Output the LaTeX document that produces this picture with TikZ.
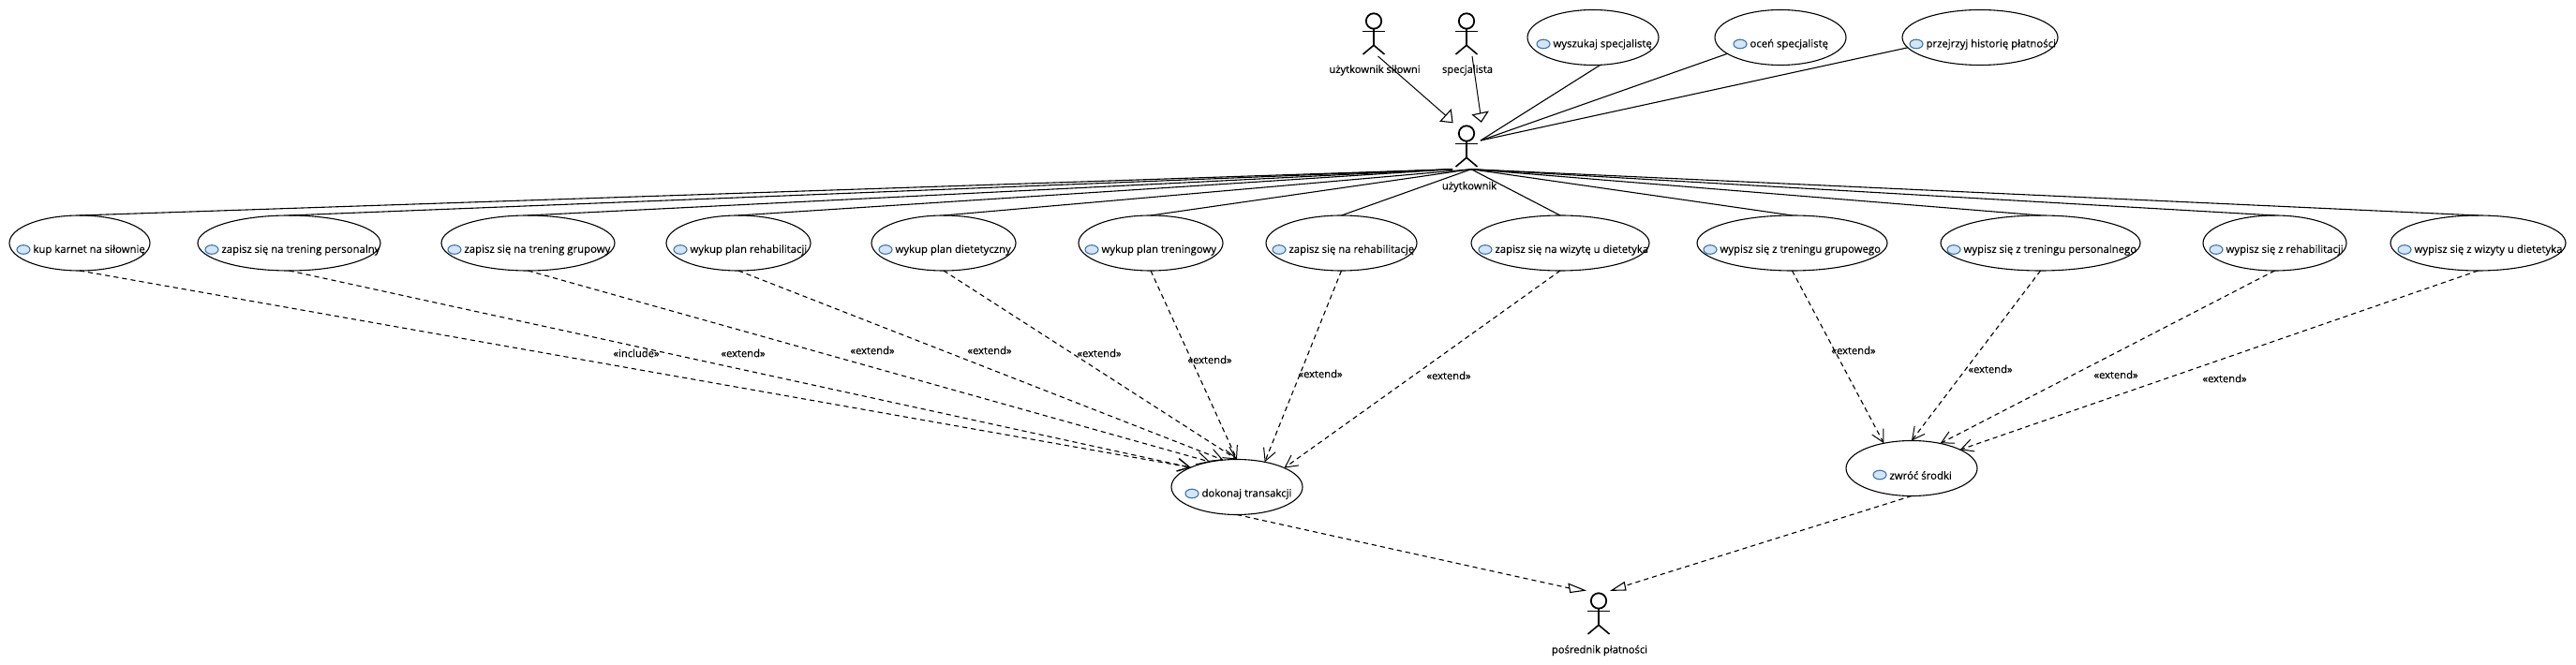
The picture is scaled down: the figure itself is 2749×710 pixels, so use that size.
\documentclass[tikz,border=0pt]{standalone}
\usepackage{fontspec}
\setmainfont{Open Sans}
\newfontfamily\labelfont{Open Sans}[FakeBold=0.25]
\usetikzlibrary{shapes.geometric,arrows.meta}
\definecolor{iconfill}{HTML}{D6E4F3}
\definecolor{iconline}{HTML}{3577B5}
\tikzset{
  ucase/.style={draw=black,ellipse,line width=0.55pt,inner sep=0pt,outer sep=0pt,fill=white,minimum height=29.5pt},
  ucicon/.style={draw=iconline,fill=iconfill,ellipse,line width=0.55pt,inner sep=0pt,outer sep=0pt,minimum width=7pt,minimum height=4.8pt},
  uctext/.style={font=\labelfont\fontsize{5.68pt}{6.5pt}\selectfont,inner sep=0pt,outer sep=0pt,anchor=west},
  lbl/.style={font=\labelfont\fontsize{5.6pt}{6.5pt}\selectfont,inner sep=0pt,outer sep=0pt},
  assoc/.style={draw=black,line width=0.55pt},
  dep/.style={draw=black,line width=0.55pt,dash pattern=on 2.6pt off 2pt,-{Straight Barb[length=6.5pt,width=6.8pt,line width=0.5pt]}},
  real/.style={draw=black,line width=0.55pt,dash pattern=on 2.6pt off 2pt},
  gen/.style={draw=black,line width=0.5pt},
  tri/.style={draw=black,line width=0.55pt,fill=white,line join=miter},
  actorbox/.style={inner sep=0pt,outer sep=0pt,minimum width=12pt,minimum height=21.5pt},
  actorhead/.style={draw=black,line width=0.9pt},
  actorbody/.style={draw=black,line width=0.8pt},
  actorarm/.style={draw=black,line width=0.5pt}
}
% name, cx, cy, width px, icon x, text
\newcommand{\usecase}[6]{%
  \node[ucase,minimum width=#4*0.5pt] (#1) at (#2,#3) {};
  \node[ucicon] (#1i) at (#5,#3+7) {};
  \node[uctext] (#1t) at (#5+10.5,#3+7.5) {#6};
}
% name, cx, top y, label y, label x, text
\newcommand{\actor}[6]{%
  \node[actorbox] (#1) at (#2,#3+21.5) {};
  \draw[actorhead] (#2,#3+7.5) circle[radius=4.1pt];
  \draw[actorarm] (#2-12,#3+18.2) -- (#2+12,#3+18.2);
  \draw[actorbody] (#2,#3+16) -- (#2,#3+33.3);
  \draw[actorbody] (#2-11.5,#3+43) -- (#2,#3+33.3) -- (#2+11.5,#3+43);
  \node[lbl] (#1l) at (#5,#4) {#6};
}
\begin{document}
\begin{tikzpicture}[x=0.5pt,y=-0.5pt]
\path[fill=white,use as bounding box] (0,0) rectangle (2749,710);

% actors
\actor{slowni}{1466}{15}{75}{1467}{użytkownik siłowni}
\actor{spec}{1565}{15}{75}{1566}{specjalista}
\actor{user}{1565}{135}{199.5}{1568}{użytkownik}
\actor{posr}{1706}{634}{694.5}{1707}{pośrednik płatności}

% connection points near actors
\coordinate (slowniOut) at (1470.5,60);
\coordinate (specOut) at (1571,60);
\coordinate (slowniTip) at (1542.8,123.3);
\coordinate (specTip) at (1579.7,121);
\coordinate (userIn) at (1580,150);
\coordinate (userL) at (1550,180.7);
\coordinate (userR) at (1570,180.7);
\coordinate (posrL) at (1675,628);
\coordinate (posrR) at (1734,625.5);

% use cases
\usecase{wysz}{1700}{40}{140}{1647}{wyszukaj specjalistę}
\usecase{ocen}{1900}{40}{140}{1857}{oceń specjalistę}
\usecase{hist}{2113}{40}{166}{2045}{przejrzyj historię płatności}
\usecase{ea}{85}{259.5}{150}{25}{kup karnet na siłownię}
\usecase{eb}{308.5}{259.5}{195}{226}{zapisz się na trening personalny}
\usecase{ec}{563.5}{259.5}{185}{485}{zapisz się na trening grupowy}
\usecase{ed}{788}{259.5}{154}{726}{wykup plan rehabilitacji}
\usecase{ee}{1007}{259.5}{154}{945}{wykup plan dietetyczny}
\usecase{ef}{1228}{259.5}{154}{1165}{wykup plan treningowy}
\usecase{eg}{1431.5}{259.5}{161}{1365}{zapisz się na rehabilitację}
\usecase{eh}{1665}{259.5}{190}{1585}{zapisz się na wizytę u dietetyka}
\usecase{ei}{1912.5}{259.5}{203}{1825}{wypisz się z treningu grupowego}
\usecase{ej}{2177.5}{259.5}{213}{2085}{wypisz się z treningu personalnego}
\usecase{ek}{2427.5}{259.5}{153}{2365}{wypisz się z rehabilitacji}
\usecase{el}{2644.5}{259.5}{187}{2566}{wypisz się z wizyty u dietetyka}
\usecase{dok}{1320}{520}{140}{1272}{dokonaj transakcji}
\usecase{zwr}{2040}{500}{140}{2006}{zwróć środki}

% associations
\draw[assoc] (userIn) -- (wysz.-75);
\draw[assoc] (userIn) -- (ocen.197);
\draw[assoc] (userIn) -- (hist.188);
\foreach \n in {ea,eb,ec,ed} \draw[assoc] (userL) -- (\n.north);
\foreach \n in {ee,ef,eg,eh,ei,ej,ek,el} \draw[assoc] (userR) -- (\n.north);

% generalisations
\draw[gen] (slowniOut) -- (slowniTip);
\draw[gen] (specOut) -- (specTip);
\draw[tri] (1537.3,129.3) -- (1548.3,117.3) -- (1550,130.7) -- cycle;
\draw[tri] (1571.7,122.7) -- (1587.7,119.3) -- (1580.7,130) -- cycle;

% dependencies
\draw[dep] (ea.south) -- (dok.157.6);
\draw[dep] (eb.south) -- (dok.157.6);
\draw[dep] (ec.south) -- (dok.137);
\draw[dep] (ed.south) -- (dok.117);
\draw[dep] (ee.south) -- (dok.north);
\draw[dep] (ef.south) -- (dok.north);
\draw[dep] (eg.south) -- (dok.42);
\draw[dep] (eh.south) -- (dok.22.5);
\draw[dep] (ei.south) -- (zwr.138);
\draw[dep] (ej.south) -- (zwr.north);
\draw[dep] (ek.south) -- (zwr.41);
\draw[dep] (el.south) -- (zwr.21.6);

% realisations to payment actor
\draw[real] (dok.south) -- (posrL);
\draw[real] (zwr.south) -- (posrR);
\draw[tri] (1674,623.3) -- (1675.7,632.5) -- (1691,630.3) -- cycle;
\draw[tri] (1720,630.3) -- (1733.3,621.7) -- (1735,630) -- cycle;

% stereotype labels
\node[lbl] (l1) at (679,377) {«include»};
\node[lbl] (l2) at (793,377) {«extend»};
\node[lbl] (l3) at (931,374) {«extend»};
\node[lbl] (l4) at (1056,374) {«extend»};
\node[lbl] (l5) at (1173,377) {«extend»};
\node[lbl] (l6) at (1291,384) {«extend»};
\node[lbl] (l7) at (1409,399) {«extend»};
\node[lbl] (l8) at (1546,401) {«extend»};
\node[lbl] (l9) at (1978,374) {«extend»};
\node[lbl] (l10) at (2124,394) {«extend»};
\node[lbl] (l11) at (2258,400) {«extend»};
\node[lbl] (l12) at (2374,404) {«extend»};
\end{tikzpicture}
\end{document}
